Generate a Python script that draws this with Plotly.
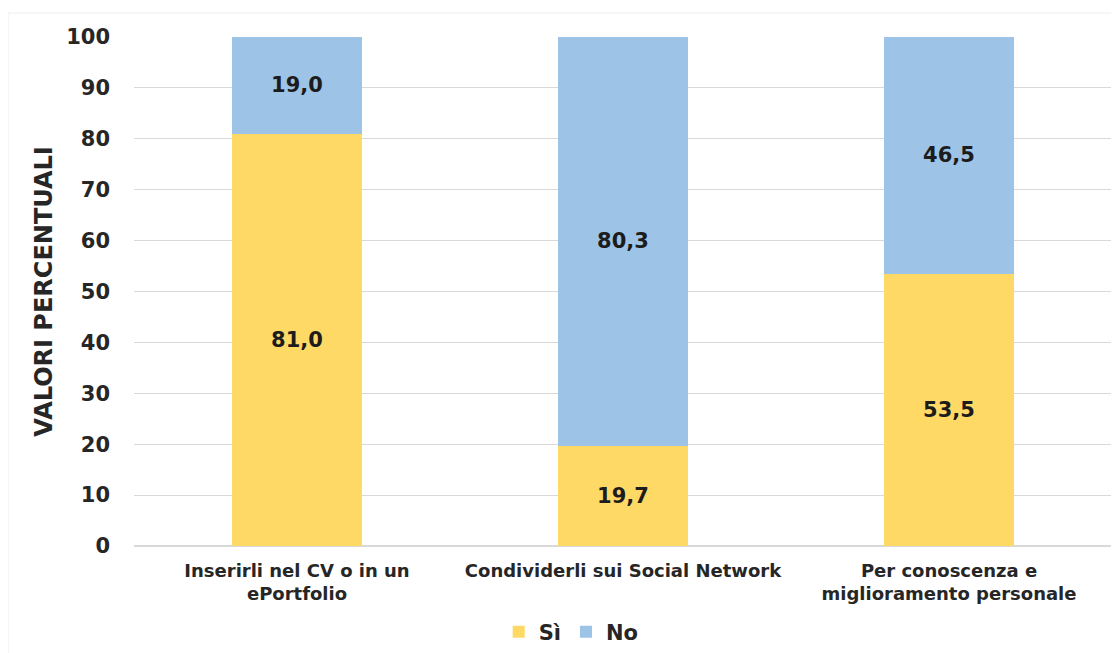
import plotly.graph_objects as go

categories = ["Inserirli nel CV o in un<br>ePortfolio",
              "Condividerli sui Social Network",
              "Per conoscenza e<br>miglioramento personale"]
si_values = [81.0, 19.7, 53.5]
no_values = [19.0, 80.3, 46.5]
y_ticks = [0, 10, 20, 30, 40, 50, 60, 70, 80, 90, 100]

FONT = "DejaVu Sans"
TXT = "#262626"

# The page body adds an 8px offset, so the figure is 8px smaller and
# the top/left margins are reduced by 8px.
W, H = 1111, 645
L, R, T, B = 126, 7, 29, 107
PW = W - L - R
PH = H - T - B

fig = go.Figure()
fig.add_trace(go.Bar(
    name="Sì", x=categories, y=si_values,
    marker=dict(color="#FFD966", line=dict(width=0)),
    texttemplate="<b>%{y:.1f}</b>", textposition="inside",
    insidetextanchor="middle",
    textfont=dict(family=FONT, size=21, color="#1c1c1c"),
))
fig.add_trace(go.Bar(
    name="No", x=categories, y=no_values,
    marker=dict(color="#9DC3E6", line=dict(width=0)),
    texttemplate="<b>%{y:.1f}</b>", textposition="inside",
    insidetextanchor="middle",
    textfont=dict(family=FONT, size=21, color="#1c1c1c"),
))

fig.update_layout(
    barmode="stack",
    bargap=0.6,
    separators=",.",
    width=W, height=H,
    margin=dict(l=L, r=R, t=T, b=B, autoexpand=False),
    paper_bgcolor="white", plot_bgcolor="white",
    font=dict(family=FONT, color=TXT),
    uniformtext=dict(mode=False),
    legend=dict(orientation="h", x=0.447, xanchor="center",
                yref="container", y=21 / H, yanchor="middle",
                font=dict(family=FONT, size=21, color=TXT, weight="bold"),
                itemwidth=30, traceorder="normal", tracegroupgap=0),
    xaxis=dict(tickfont=dict(family=FONT, size=18, color=TXT, weight="bold"),
               showgrid=False, showline=False, ticks="", automargin=False,
               ticklabelstandoff=12),
    yaxis=dict(range=[0, 100], tickvals=y_ticks, ticktext=[str(v) for v in y_ticks],
               tickfont=dict(family=FONT, size=21, color=TXT, weight="bold"),
               gridcolor="#D9D9D9", gridwidth=1, zeroline=True, zerolinecolor="#D9D9D9",
               showline=False, ticks="", ticklabelstandoff=23, automargin=False,
               title=dict(text="<b>VALORI PERCENTUALI</b>",
                          font=dict(family=FONT, size=24, color=TXT), standoff=6)),
    shapes=[dict(type="rect", xref="paper", yref="paper",
                 x0=(0 - L) / PW, x1=(W + 20 - L) / PW,
                 y0=(T + PH - (H + 20)) / PH, y1=(T + PH - 5) / PH,
                 line=dict(color="#EDEDED", width=1), layer="below")],
)

fig.write_html("out.html")
